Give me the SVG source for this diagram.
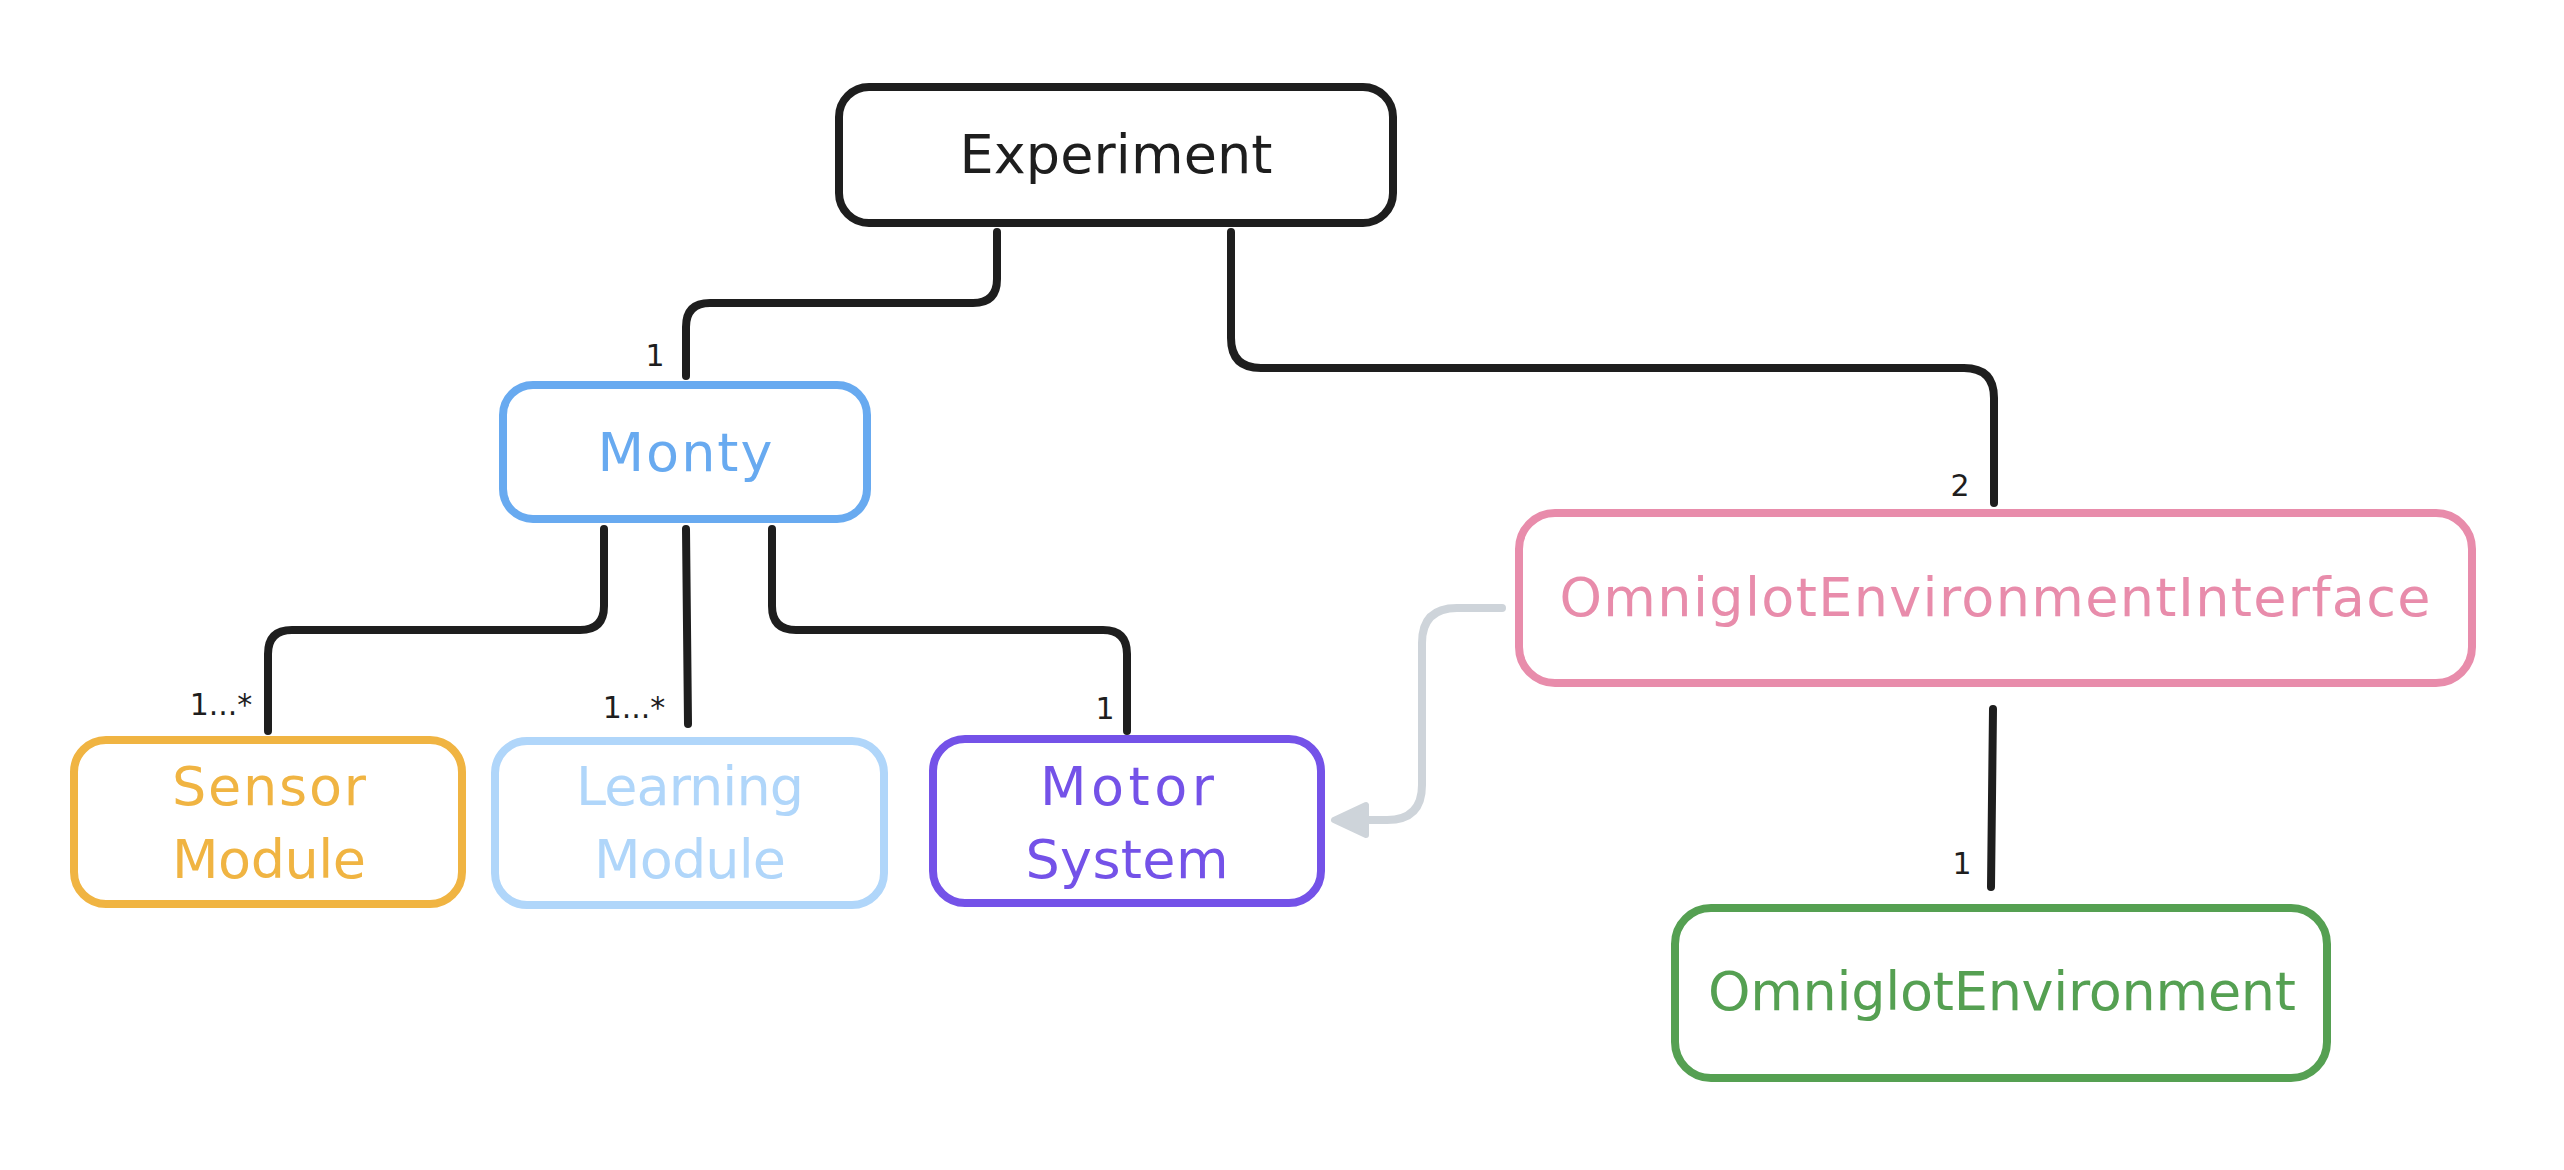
<svg xmlns="http://www.w3.org/2000/svg" width="2564" height="1170" viewBox="0 0 2564 1170">
<defs>
<style>
.box{fill:#ffffff;stroke-width:8}
.t{font-family:"DejaVu Sans","Liberation Sans",sans-serif;font-size:54px;text-anchor:middle}
.lbl{font-family:"DejaVu Sans","Liberation Sans",sans-serif;font-size:30px;text-anchor:middle;fill:#1e1e1e}
.c{fill:none;stroke:#1e1e1e;stroke-width:8;stroke-linecap:round;stroke-linejoin:round}
.g{fill:none;stroke:#ced4da;stroke-width:8;stroke-linecap:round;stroke-linejoin:round}
</style>
</defs>
<rect width="2564" height="1170" fill="#ffffff"/>
<g id="connectors">
<path class="c" d="M997 232 V279 Q997 303 973 303 H710 Q686 303 686 327 V376"/>
<path class="c" d="M1231 232 V338 Q1231 368 1261 368 H1964 Q1994 368 1994 398 V503"/>
<path class="c" d="M604 529 V606 Q604 630 580 630 H292 Q268 630 268 654 V731"/>
<path class="c" d="M686 529 L688 724"/>
<path class="c" d="M772 529 V606 Q772 630 796 630 H1103 Q1127 630 1127 654 V731"/>
<path class="c" d="M1993 709 L1991 887"/>
<path class="g" d="M1502 608 H1457 Q1422 608 1422 643 V785 Q1422 820 1387 820 H1362"/>
<polygon points="1334,820 1366,805 1366,835" fill="#ced4da" stroke="#ced4da" stroke-width="6" stroke-linejoin="round"/>
<text class="lbl" x="655" y="366">1</text>
<text class="lbl" x="1960" y="496">2</text>
<text class="lbl" x="221" y="715">1...*</text>
<text class="lbl" x="634" y="718">1...*</text>
<text class="lbl" x="1105" y="719">1</text>
<text class="lbl" x="1962" y="874">1</text>
</g>
<g id="experiment">
<rect class="box" x="839" y="87" width="554" height="136" rx="30" stroke="#1e1e1e"/>
<text class="t" x="1116" y="173" fill="#1e1e1e" textLength="313">Experiment</text>
</g>
<g id="monty">
<rect class="box" x="503" y="385" width="364" height="134" rx="30" stroke="#68aaf0"/>
<text class="t" x="685" y="471" fill="#68aaf0" textLength="175">Monty</text>
</g>
<g id="sensor-module">
<rect class="box" x="74" y="740" width="388" height="164" rx="32" stroke="#f0b442"/>
<text class="t" x="269" y="805" fill="#f0b442" textLength="194">Sensor</text>
<text class="t" x="269" y="878" fill="#f0b442" textLength="194">Module</text>
</g>
<g id="learning-module">
<rect class="box" x="495" y="741" width="389" height="164" rx="32" stroke="#b0d6fa"/>
<text class="t" x="690" y="805" fill="#b0d6fa" textLength="228">Learning</text>
<text class="t" x="690" y="878" fill="#b0d6fa" textLength="192">Module</text>
</g>
<g id="motor-system">
<rect class="box" x="933" y="739" width="388" height="164" rx="32" stroke="#7452e8"/>
<text class="t" x="1127" y="805" fill="#7452e8" textLength="174">Motor</text>
<text class="t" x="1127" y="878" fill="#7452e8" textLength="203">System</text>
</g>
<g id="omniglot-environment-interface">
<rect class="box" x="1519" y="513" width="953" height="170" rx="36" stroke="#e88cab"/>
<text class="t" x="1995" y="616" fill="#e88cab" textLength="871">OmniglotEnvironmentInterface</text>
</g>
<g id="omniglot-environment">
<rect class="box" x="1675" y="908" width="652" height="170" rx="36" stroke="#55a052"/>
<text class="t" x="2002" y="1010" fill="#55a052" textLength="588">OmniglotEnvironment</text>
</g>
</svg>
